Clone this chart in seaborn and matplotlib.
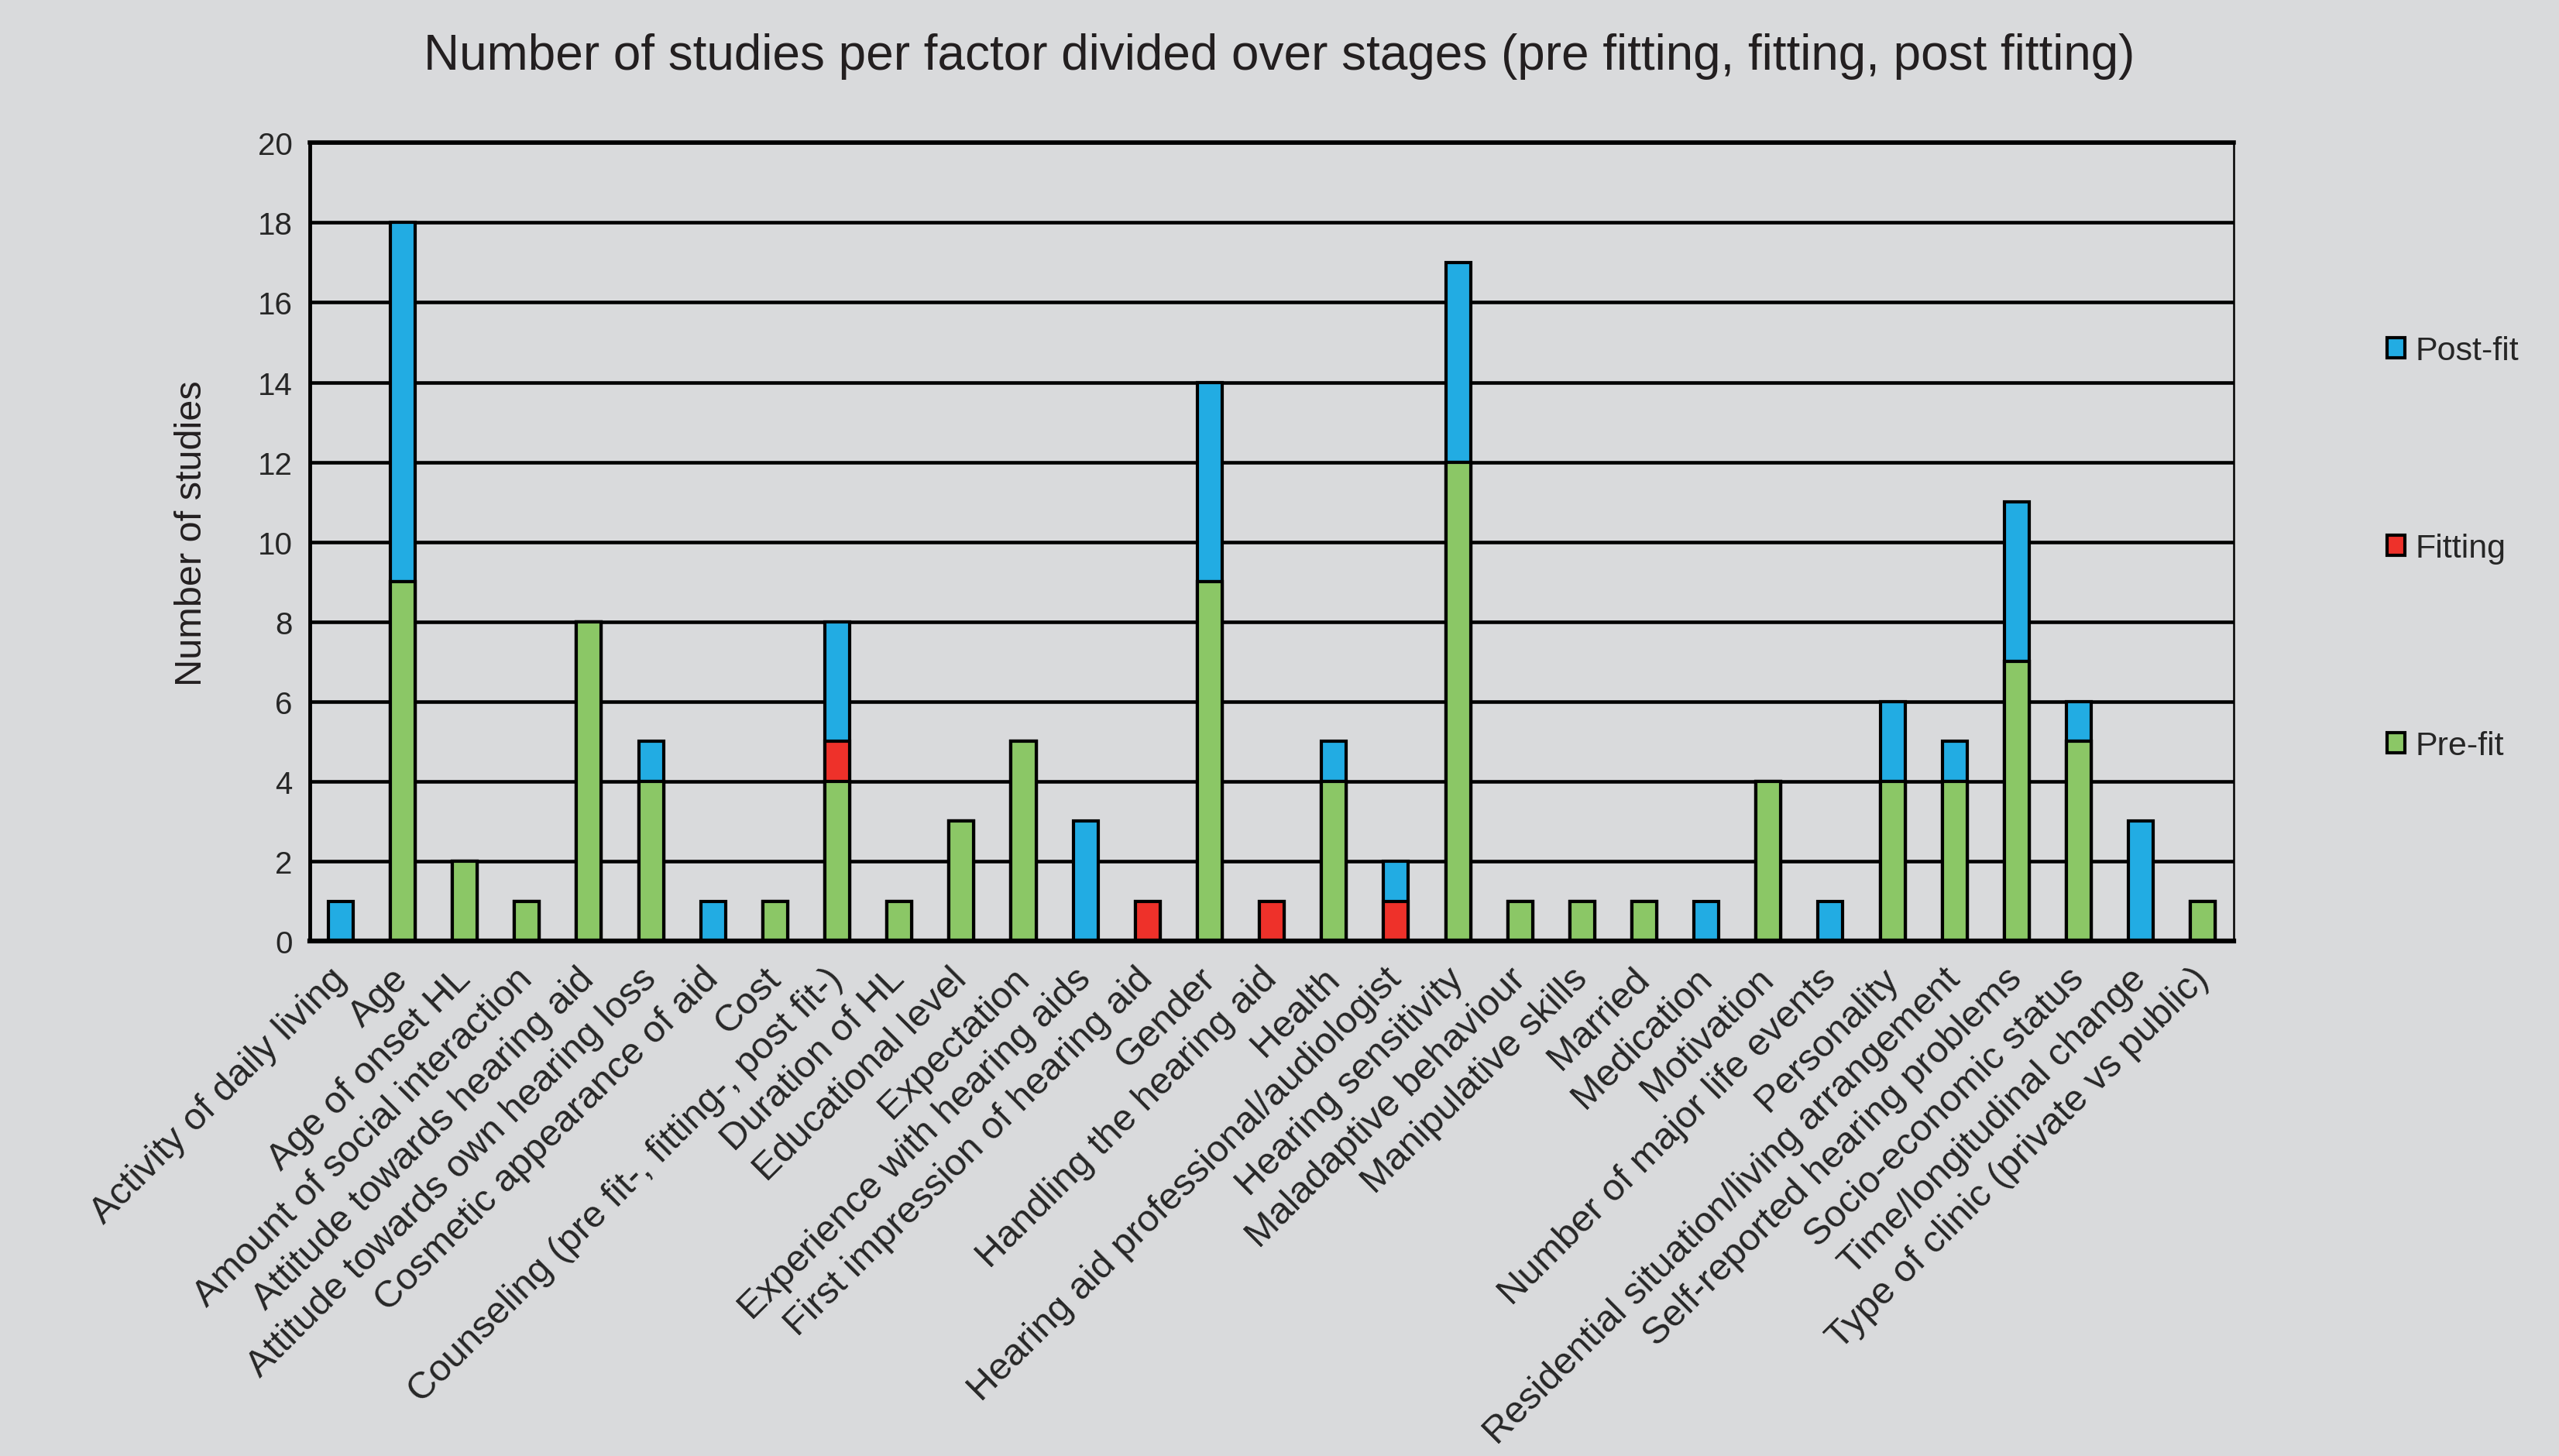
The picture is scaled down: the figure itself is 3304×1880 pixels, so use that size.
import numpy as np
import pandas as pd
import matplotlib
matplotlib.use('Agg')
import matplotlib.pyplot as plt
from matplotlib import font_manager
from matplotlib.patches import Patch
import seaborn as sns

# ==============================
# Data
# ==============================

factors = [
    'Activity of daily living', 'Age', 'Age of onset HL', 'Amount of social interaction',
    'Attitude towards hearing aid', 'Attitude towards own hearing loss',
    'Cosmetic appearance of aid', 'Cost', 'Counseling (pre fit-, fitting-, post fit-)',
    'Duration of HL', 'Educational level', 'Expectation', 'Experience with hearing aids',
    'First impression of hearing aid', 'Gender', 'Handling the hearing aid', 'Health',
    'Hearing aid professional/audiologist', 'Hearing sensitivity', 'Maladaptive behaviour',
    'Manipulative skills', 'Married', 'Medication', 'Motivation',
    'Number of major life events', 'Personality', 'Residential situation/living arrangement',
    'Self-reported hearing problems', 'Socio-economic status', 'Time/longitudinal change',
    'Type of clinic (private vs public)',
]
pre_fit = [0, 9, 2, 1, 8, 4, 0, 1, 4, 1, 3, 5, 0, 0, 9, 0, 4, 0, 12, 1, 1, 1, 0, 4, 0, 4, 4, 7, 5, 0, 1]
fitting = [0, 0, 0, 0, 0, 0, 0, 0, 1, 0, 0, 0, 0, 1, 0, 1, 0, 1, 0, 0, 0, 0, 0, 0, 0, 0, 0, 0, 0, 0, 0]
post_fit = [1, 9, 0, 0, 0, 1, 1, 0, 3, 0, 0, 0, 3, 0, 5, 0, 1, 1, 5, 0, 0, 0, 1, 0, 1, 2, 1, 4, 1, 3, 0]

df = pd.DataFrame({'Factor': factors, 'Pre-fit': pre_fit, 'Fitting': fitting, 'Post-fit': post_fit})
# stacked heights, drawn back to front
df['top_fit'] = df['Pre-fit'] + df['Fitting']
df['top_post'] = df['top_fit'] + df['Post-fit']

# ==============================
# Style
# ==============================

bg = '#D9DADC'
blue = '#22ACE3'
red = '#EE312A'
green = '#8BC766'

sns.set_style('white')
installed = {f.name for f in font_manager.fontManager.ttflist}
narrow = 'Liberation Sans Narrow' if 'Liberation Sans Narrow' in installed else 'Liberation Sans'
plt.rcParams['font.family'] = ['Liberation Sans', 'DejaVu Sans']
title_size = 46
ylab_size = 37 if narrow != 'Liberation Sans' else 35

fig = plt.figure(figsize=(33.04, 18.81), dpi=100, facecolor=bg)
ax = fig.add_axes([0.121, 0.3535, 0.752, 0.548])
ax.set_facecolor(bg)

bar_kw = dict(x='Factor', edgecolor='black', linewidth=3, width=0.4, errorbar=None, ax=ax)
sns.barplot(data=df, y='top_post', color=blue, **bar_kw)
sns.barplot(data=df, y='top_fit', color=red, **bar_kw)
sns.barplot(data=df, y='Pre-fit', color=green, **bar_kw)

# force the pure colours (seaborn desaturates a bit)
for i, p in enumerate(ax.patches):
    p.set_facecolor([blue, red, green][i // len(df)])

# ==============================
# Axes
# ==============================

ax.set_ylim(0, 20)
ax.set_xlim(-0.5, len(df) - 0.5)
ax.set_yticks(np.arange(0, 21, 2))
ax.yaxis.grid(True, color='black', linewidth=3.3)
ax.set_axisbelow(True)

ax.set_xlabel('')
ax.set_ylabel('')
ax.set_xticks(range(len(df)))
ax.set_xticklabels(df['Factor'], rotation=45, ha='right', va='center',
                   rotation_mode='anchor', fontsize=35)
ax.tick_params(axis='x', which='major', length=0, pad=30)
ax.set_xticks(np.arange(-0.5, len(df), 1), minor=True)
ax.tick_params(axis='x', which='minor', length=8, width=3, direction='out', color='black')
ax.tick_params(axis='y', labelsize=29, length=8, width=3, direction='out', color='black', pad=8)

for side, lw in [('left', 3.5), ('bottom', 4.5), ('top', 4), ('right', 1.8)]:
    ax.spines[side].set_visible(True)
    ax.spines[side].set_color('black')
    ax.spines[side].set_linewidth(lw)

fig.text(0.5, 0.961, 'Number of studies per factor divided over stages (pre fitting, fitting, post fitting)',
         ha='center', va='center', fontsize=title_size, color='#231F20', family=[narrow, 'DejaVu Sans'])
fig.text(0.075, 0.634, 'Number of studies', rotation=90, ha='center', va='center',
         fontsize=ylab_size, color='#231F20', family=[narrow, 'DejaVu Sans'])

handles = [Patch(facecolor=c, edgecolor='black', linewidth=3) for c in [blue, red, green]]
fig.legend(handles, ['Post-fit', 'Fitting', 'Pre-fit'], loc='center left',
           bbox_to_anchor=(0.921, 0.623), frameon=False, fontsize=31,
           handlelength=0.55, handleheight=0.55, handletextpad=0.3, labelspacing=5.0)

plt.savefig('out.png', dpi=100, facecolor=bg)
plt.close()
